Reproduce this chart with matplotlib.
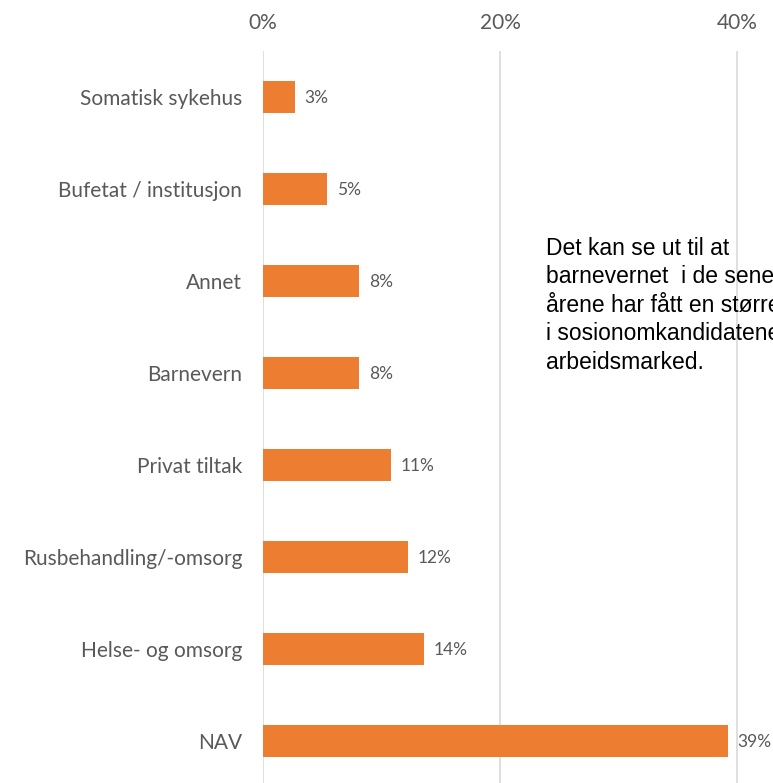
import matplotlib
matplotlib.use("Agg")
import matplotlib.pyplot as plt

categories = ["Somatisk sykehus", "Bufetat / institusjon", "Annet", "Barnevern",
              "Privat tiltak", "Rusbehandling/-omsorg", "Helse- og omsorg", "NAV"]
values = [2.7, 5.4, 8.1, 8.1, 10.8, 12.2, 13.6, 39.2]
xticks = [0, 20, 40]
xtick_labels = ["0%", "20%", "40%"]
note_lines = ["Det kan se ut til at",
              "barnevernet  i de senere",
              "årene har fått en større andel",
              "i sosionomkandidatenes",
              "arbeidsmarked."]

W, H = 773, 783
fig = plt.figure(figsize=(W / 100, H / 100), dpi=100)
left = 263 / W
top_px, bot_px = 51, 787
px_per_pct = (737 - 263) / 40
xmax = 50
ax = fig.add_axes([left, 1 - bot_px / H, xmax * px_per_pct / W, (bot_px - top_px) / H])

label_font = "Lato"
gray = "#595959"
ypos = list(range(len(categories)))
ax.barh(ypos, values, height=0.35, color="#ED7D31", zorder=3)
ax.set_ylim(len(categories) - 0.5, -0.5)
ax.set_xlim(0, xmax)
ax.set_yticks(ypos)
ax.set_yticklabels(categories, fontfamily=label_font, fontsize=15, color=gray)
ax.set_xticks(xticks)
ax.set_xticklabels(xtick_labels, fontfamily=label_font, fontsize=15, color=gray)
ax.xaxis.tick_top()
ax.tick_params(axis="x", length=0, pad=13)
ax.tick_params(axis="y", length=0, pad=15)
for s in ax.spines.values():
    s.set_visible(False)
ax.grid(axis="x", color="#d9d9d9", linewidth=1.2, zorder=0)
ax.grid(axis="y", visible=False)

for y, v in zip(ypos, values):
    ax.annotate(f"{round(v)}%", xy=(v, y), xytext=(7, -1), textcoords="offset points",
                ha="left", va="center", fontfamily=label_font, fontsize=12.5, color=gray,
                annotation_clip=False)

fig.text(546 / W, 1 - 237 / H, "\n".join(note_lines), ha="left", va="top",
         fontfamily="Liberation Sans", fontsize=16.5, color="black", linespacing=1.3)

fig.savefig("out.png", dpi=100)
